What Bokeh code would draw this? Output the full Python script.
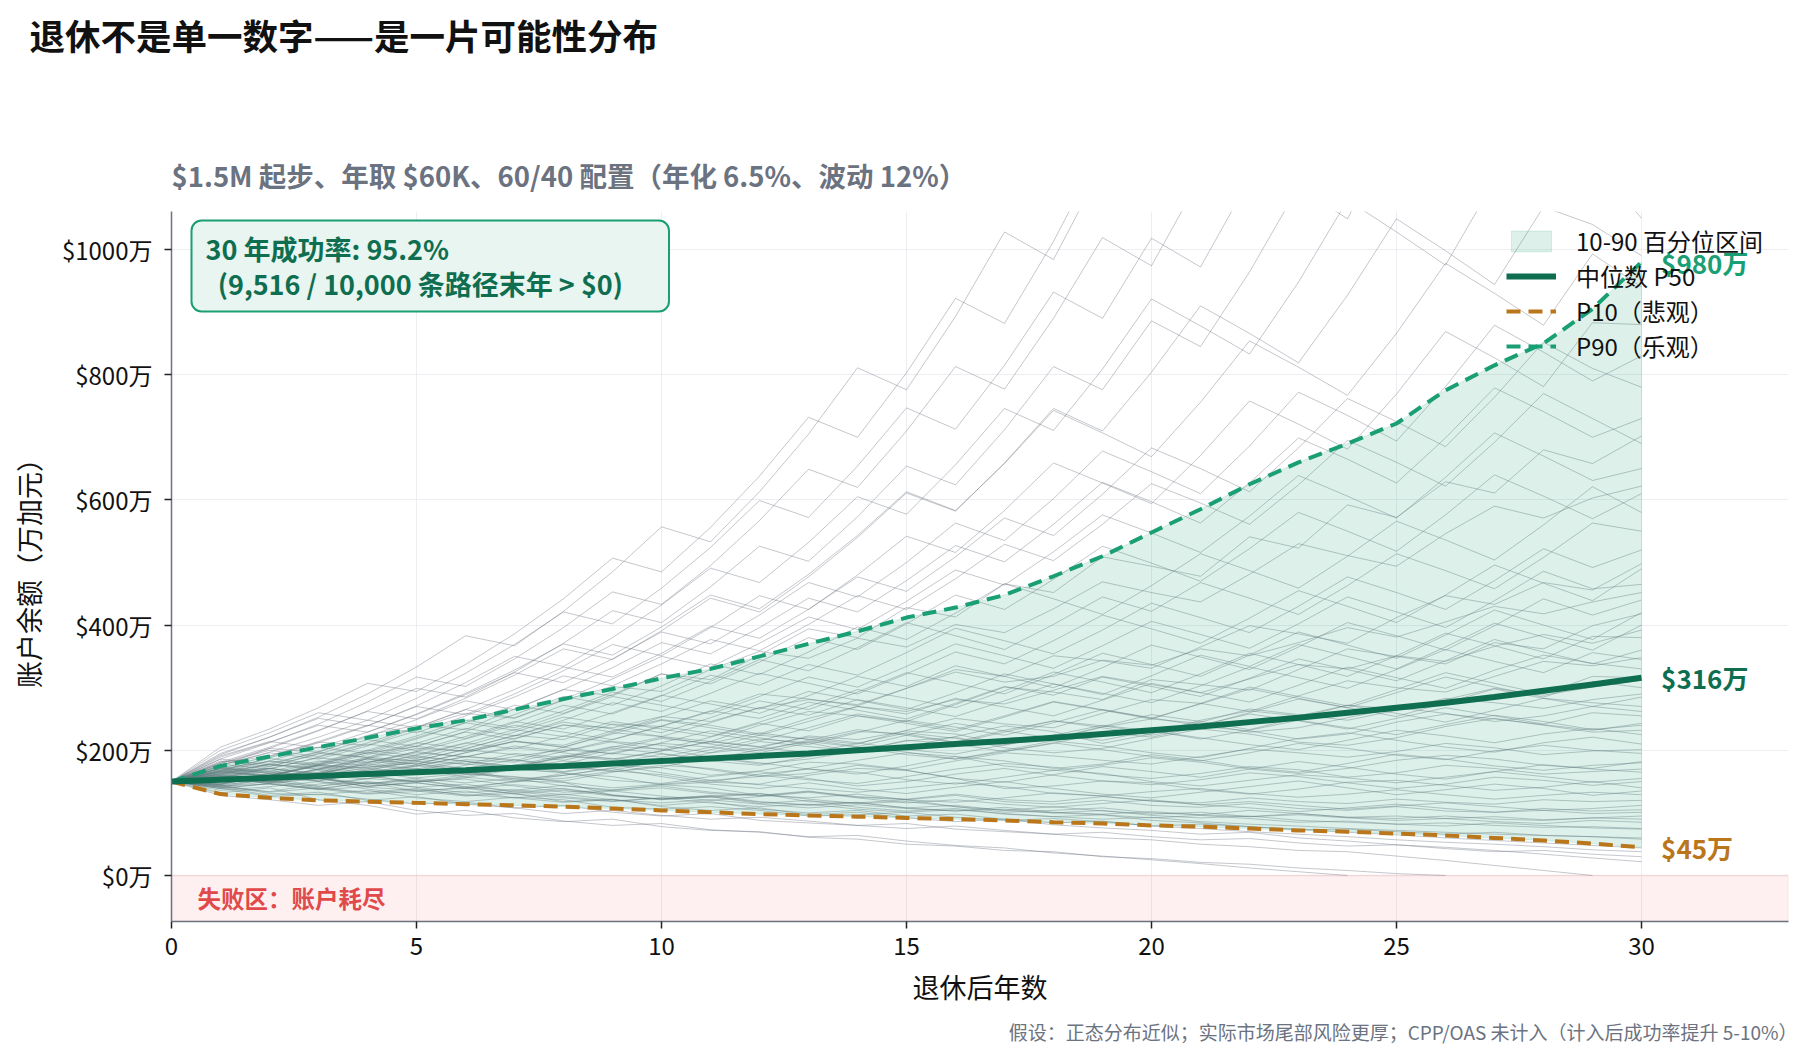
from bokeh.plotting import figure
from bokeh.models import Label, Legend, LegendItem, FixedTicker, Range1d, PrintfTickFormatter, Title
from bokeh.embed import file_html
from bokeh.resources import INLINE

# ---------------- data (balances in 万加元) ----------------
years = list(range(31))

p50 = [150, 153, 156, 159, 162, 165, 168, 172, 175, 179, 183, 187, 191, 195, 200, 205,
       210, 215, 220, 226, 232, 238, 245, 252, 260, 268, 276, 285, 295, 305, 316]
p10 = [150, 130, 124, 120, 118, 116, 114, 112, 110, 107, 104, 101, 98, 96, 94, 92,
       90, 88, 85, 83, 80, 78, 75, 72, 70, 67, 64, 60, 56, 51, 45]
p90 = [150, 175, 190, 205, 220, 235, 248, 265, 282, 298, 315, 330, 350, 370, 390, 412,
       428, 448, 478, 510, 548, 585, 625, 660, 690, 722, 775, 815, 850, 905, 980]

# a sample of simulated yearly balance paths (depleted paths stop at 0)
paths = [
    [150, 128, 121, 112, 118, 104, 96, 99, 87, 80, 83, 73, 69, 62, 64, 55, 48, 44, 36, 31, 25, 19, 12, 6, 0],
    [150, 132, 140, 121, 112, 98, 104, 92, 86, 90, 78, 72, 70, 61, 58, 50, 47, 40, 38, 30, 27, 21, 18, 12, 8, 3, 0],
    [150, 141, 128, 133, 120, 126, 114, 108, 112, 101, 95, 99, 88, 84, 80, 83, 74, 70, 66, 60, 57, 50, 46, 40, 38, 31, 24, 16, 8, 0],
    [150, 158, 146, 139, 148, 135, 127, 131, 118, 122, 110, 104, 108, 97, 101, 92, 86, 90, 81, 76, 72, 66, 69, 60, 55, 49, 45, 40, 34, 28, 22],
    [150, 136, 142, 150, 138, 129, 135, 124, 117, 121, 112, 118, 106, 100, 104, 95, 98, 90, 84, 87, 79, 75, 70, 66, 62, 57, 53, 50, 46, 41, 38],
    [150, 162, 155, 143, 150, 141, 146, 133, 139, 128, 121, 126, 115, 120, 109, 103, 107, 98, 94, 97, 88, 84, 78, 74, 69, 65, 60, 56, 52, 48, 44],
    [150, 145, 152, 140, 133, 139, 128, 134, 126, 119, 124, 116, 110, 114, 106, 101, 105, 99, 94, 90, 93, 86, 82, 79, 75, 72, 69, 66, 64, 62, 60],
    [150, 160, 149, 155, 142, 148, 139, 131, 136, 127, 122, 128, 118, 113, 117, 108, 112, 104, 100, 104, 96, 92, 95, 88, 85, 82, 84, 80, 77, 78, 75],
    [150, 144, 133, 140, 131, 137, 129, 124, 130, 121, 116, 121, 114, 108, 113, 107, 103, 109, 101, 98, 102, 97, 94, 99, 93, 91, 95, 90, 88, 92, 90],
    [150, 165, 171, 160, 166, 155, 148, 155, 143, 137, 143, 133, 128, 135, 125, 121, 128, 118, 114, 120, 112, 109, 115, 107, 104, 110, 103, 101, 107, 103, 105],
    [150, 139, 147, 155, 146, 152, 141, 136, 144, 135, 140, 131, 127, 134, 126, 122, 130, 121, 118, 126, 119, 116, 124, 118, 115, 122, 117, 114, 121, 118, 120],
    [150, 157, 168, 156, 147, 153, 142, 149, 160, 171, 158, 146, 139, 148, 138, 131, 141, 150, 139, 130, 124, 133, 142, 151, 140, 129, 137, 146, 139, 128, 135],
    [150, 161, 155, 168, 159, 149, 156, 170, 164, 152, 147, 158, 166, 155, 143, 150, 162, 171, 160, 151, 145, 153, 164, 158, 148, 139, 146, 157, 152, 144, 150],
    [150, 143, 156, 170, 162, 175, 168, 154, 160, 172, 181, 169, 158, 163, 176, 168, 155, 149, 161, 174, 166, 157, 170, 182, 173, 162, 154, 166, 177, 170, 165],
    [150, 168, 160, 151, 164, 177, 171, 185, 176, 166, 173, 189, 180, 170, 162, 175, 190, 183, 171, 178, 193, 184, 172, 165, 179, 194, 186, 175, 168, 176, 180],
    [150, 157, 171, 163, 178, 191, 182, 174, 188, 203, 195, 183, 176, 190, 205, 197, 186, 198, 212, 201, 190, 183, 196, 211, 203, 192, 185, 199, 208, 200, 195],
    [150, 139, 147, 160, 154, 168, 182, 175, 166, 179, 194, 186, 201, 214, 205, 193, 186, 200, 215, 207, 196, 188, 203, 219, 228, 216, 205, 197, 212, 221, 210],
    [150, 166, 177, 169, 183, 175, 190, 204, 196, 186, 199, 214, 206, 221, 212, 201, 194, 209, 225, 216, 231, 220, 209, 201, 216, 232, 223, 212, 226, 235, 225],
    [150, 158, 149, 163, 178, 171, 162, 176, 192, 184, 199, 214, 205, 196, 211, 228, 219, 208, 224, 240, 231, 218, 232, 248, 236, 225, 241, 256, 246, 233, 240],
    [150, 171, 163, 154, 170, 186, 178, 195, 188, 205, 221, 210, 199, 216, 233, 224, 212, 229, 247, 236, 224, 240, 258, 247, 234, 251, 268, 255, 242, 260, 255],
    [150, 146, 160, 175, 168, 184, 201, 193, 184, 201, 219, 211, 228, 217, 206, 224, 243, 231, 219, 238, 257, 246, 233, 252, 272, 259, 245, 264, 283, 276, 270],
    [150, 163, 178, 170, 186, 178, 196, 214, 205, 194, 212, 231, 220, 209, 228, 248, 237, 224, 244, 265, 252, 239, 260, 282, 268, 254, 276, 298, 283, 270, 285],
    [150, 159, 150, 165, 181, 198, 189, 207, 198, 217, 238, 227, 215, 236, 258, 246, 233, 255, 278, 265, 251, 274, 298, 283, 268, 292, 317, 301, 285, 310, 300],
    [150, 174, 166, 183, 175, 193, 212, 202, 223, 213, 201, 221, 243, 231, 255, 243, 230, 253, 277, 264, 250, 275, 301, 286, 271, 297, 324, 307, 290, 318, 316],
    [150, 141, 155, 170, 186, 178, 196, 215, 205, 226, 248, 236, 224, 246, 270, 258, 283, 269, 255, 280, 307, 292, 277, 304, 333, 316, 299, 328, 352, 339, 330],
    [150, 167, 183, 175, 193, 212, 203, 223, 245, 234, 222, 244, 268, 256, 281, 268, 254, 279, 306, 291, 276, 303, 333, 316, 299, 329, 361, 342, 324, 356, 345],
    [150, 155, 171, 188, 180, 198, 218, 240, 229, 217, 239, 263, 251, 277, 264, 250, 275, 302, 288, 317, 302, 286, 315, 346, 329, 311, 343, 377, 357, 338, 360],
    [150, 172, 163, 181, 200, 191, 211, 233, 222, 246, 234, 222, 245, 270, 297, 283, 268, 295, 325, 309, 292, 322, 355, 337, 318, 351, 387, 367, 346, 382, 380],
    [150, 162, 179, 197, 188, 207, 229, 218, 241, 229, 253, 279, 266, 294, 280, 265, 292, 322, 306, 289, 319, 352, 334, 369, 350, 330, 365, 403, 381, 360, 400],
    [150, 145, 160, 177, 196, 187, 207, 229, 253, 241, 228, 252, 279, 265, 293, 324, 307, 290, 321, 355, 337, 318, 352, 389, 368, 347, 384, 424, 400, 377, 420],
    [150, 178, 170, 189, 210, 200, 222, 246, 234, 260, 288, 274, 259, 287, 318, 302, 335, 318, 300, 332, 368, 349, 329, 365, 404, 383, 360, 399, 442, 416, 440],
    [150, 168, 187, 178, 198, 220, 244, 232, 258, 286, 272, 258, 286, 317, 301, 334, 370, 351, 331, 367, 406, 385, 363, 402, 445, 421, 396, 439, 486, 458, 465],
    [150, 160, 152, 170, 189, 211, 235, 223, 248, 276, 262, 291, 323, 307, 290, 322, 357, 338, 375, 416, 394, 371, 411, 455, 430, 404, 448, 496, 467, 439, 490],
    [150, 176, 196, 186, 207, 231, 219, 244, 272, 258, 287, 320, 304, 337, 320, 356, 395, 375, 354, 392, 435, 412, 388, 430, 477, 452, 425, 471, 522, 492, 520],
    [150, 169, 160, 179, 200, 223, 248, 236, 263, 293, 278, 310, 345, 327, 364, 404, 383, 361, 401, 445, 422, 468, 443, 417, 463, 514, 487, 458, 508, 563, 550],
    [150, 183, 174, 194, 217, 206, 230, 257, 286, 272, 303, 338, 321, 357, 397, 377, 419, 466, 442, 417, 463, 514, 487, 459, 510, 566, 536, 504, 560, 621, 580],
    [150, 164, 183, 205, 195, 218, 244, 272, 259, 289, 322, 306, 341, 380, 361, 402, 448, 425, 473, 526, 499, 470, 522, 580, 550, 518, 576, 640, 606, 570, 610],
    [150, 179, 200, 190, 212, 237, 265, 252, 281, 314, 350, 333, 371, 413, 393, 438, 488, 464, 517, 576, 547, 516, 574, 639, 606, 571, 636, 707, 670, 631, 650],
    [150, 171, 191, 214, 240, 228, 255, 285, 319, 303, 338, 377, 359, 401, 447, 425, 474, 529, 503, 561, 626, 595, 561, 624, 695, 660, 622, 692, 770, 730, 690],
    [150, 186, 177, 198, 222, 249, 279, 265, 297, 332, 372, 354, 396, 443, 421, 471, 527, 501, 561, 628, 597, 563, 627, 699, 665, 627, 699, 779, 741, 700, 730],
    [150, 176, 197, 221, 248, 236, 265, 297, 333, 317, 355, 398, 379, 425, 477, 454, 509, 571, 543, 609, 683, 650, 613, 683, 762, 725, 685, 764, 852, 810, 780],
    [150, 191, 214, 204, 229, 257, 289, 324, 308, 346, 389, 370, 416, 468, 445, 500, 563, 535, 602, 678, 645, 610, 686, 772, 735, 694, 781, 879, 836, 790, 830],
    [150, 167, 188, 212, 239, 270, 257, 290, 327, 369, 351, 396, 447, 425, 480, 542, 516, 583, 659, 627, 594, 671, 758, 721, 681, 769, 869, 827, 781, 883, 880],
    [150, 189, 213, 240, 229, 258, 291, 328, 370, 352, 397, 448, 426, 481, 543, 613, 583, 658, 743, 707, 669, 756, 854, 812, 767, 866, 978, 930, 879, 993, 940],
    [150, 181, 205, 232, 262, 250, 283, 320, 362, 345, 391, 443, 421, 477, 540, 611, 582, 659, 746, 710, 804, 910, 866, 819, 927, 1049, 998, 944, 1068, 1040, 990],
    [150, 195, 221, 251, 239, 271, 308, 350, 334, 380, 432, 491, 468, 532, 605, 577, 656, 746, 711, 809, 921, 878, 833, 948, 1079, 1028, 975, 1110, 1200, 1140, 1050],
    [150, 179, 203, 231, 263, 299, 285, 325, 371, 423, 404, 461, 526, 502, 573, 654, 624, 712, 813, 776, 886, 845, 964, 1100, 1049, 1197, 1142, 1080, 1180, 1260, 1150],
    [150, 200, 228, 260, 248, 283, 323, 369, 421, 402, 459, 524, 599, 572, 654, 747, 713, 815, 932, 890, 1018, 972, 1112, 1272, 1214, 1150, 1300, 1240, 1370, 1310, 1250],
    [150, 186, 212, 242, 277, 317, 302, 346, 396, 453, 433, 495, 567, 649, 620, 710, 813, 777, 890, 1019, 974, 1115, 1277, 1220, 1160, 1330, 1270, 1450, 1380, 1520, 1400],
    [150, 205, 234, 268, 307, 294, 337, 386, 442, 507, 485, 556, 638, 732, 700, 803, 922, 882, 1013, 1163, 1113, 1280, 1470, 1405, 1615, 1545, 1470, 1690, 1610, 1780, 1600],
    [150, 193, 221, 253, 290, 333, 383, 367, 422, 485, 557, 533, 613, 705, 811, 776, 893, 1028, 984, 1133, 1305, 1250, 1440, 1660, 1590, 1830, 1750, 1670, 1920, 1840, 1900],
    [150, 147, 160, 158, 141, 136, 139, 151, 149, 128, 122, 125, 131, 118, 116, 121, 110, 101, 104, 108, 100, 97, 104, 99, 93, 95, 91, 94, 89, 92, 95],
    [150, 170, 164, 158, 173, 180, 166, 152, 155, 167, 161, 149, 146, 160, 171, 168, 155, 139, 143, 151, 148, 137, 130, 138, 149, 152, 144, 136, 141, 150, 140],
    [150, 152, 149, 164, 187, 183, 170, 174, 190, 206, 202, 189, 178, 186, 199, 215, 221, 204, 196, 203, 219, 234, 226, 213, 208, 220, 238, 251, 240, 229, 232],
    [150, 144, 131, 129, 136, 124, 118, 125, 121, 109, 106, 110, 104, 95, 97, 101, 93, 88, 91, 86, 79, 82, 78, 73, 74, 70, 66, 69, 64, 62, 58],
    [150, 163, 160, 151, 166, 175, 190, 185, 172, 168, 183, 201, 218, 212, 197, 205, 222, 239, 230, 211, 226, 248, 263, 255, 272, 266, 281, 299, 288, 301, 312],
    [150, 142, 150, 163, 160, 149, 158, 172, 183, 177, 164, 152, 158, 171, 184, 196, 190, 175, 168, 176, 188, 181, 170, 163, 171, 184, 192, 186, 176, 171, 182],
    [150, 171, 182, 177, 196, 206, 198, 219, 240, 236, 254, 246, 268, 281, 273, 299, 325, 309, 318, 344, 336, 362, 351, 372, 396, 381, 405, 430, 418, 437, 452],
    [150, 156, 147, 137, 142, 150, 154, 143, 133, 136, 145, 140, 128, 124, 130, 121, 117, 124, 132, 127, 119, 113, 118, 112, 106, 111, 116, 110, 104, 107, 112],
    [150, 160, 177, 173, 164, 170, 185, 181, 198, 214, 208, 196, 204, 223, 217, 231, 226, 210, 218, 237, 250, 243, 229, 236, 252, 268, 259, 246, 255, 270, 262],
    [150, 166, 158, 176, 187, 203, 199, 214, 208, 231, 249, 240, 226, 251, 270, 262, 281, 274, 296, 318, 305, 292, 314, 337, 330, 351, 342, 366, 385, 371, 392],
    [150, 158, 149, 138, 130, 134, 141, 130, 124, 118, 124, 126, 117, 112, 116, 108, 103, 106, 100, 97, 92, 96, 91, 85, 87, 82, 79, 84, 80, 76, 74],
    [150, 141, 134, 146, 155, 150, 161, 170, 165, 176, 172, 160, 167, 181, 178, 169, 183, 196, 191, 184, 178, 190, 202, 196, 189, 198, 211, 204, 193, 199, 201],
    [150, 181, 190, 213, 208, 236, 259, 251, 280, 302, 294, 329, 358, 347, 379, 365, 401, 388, 426, 469, 452, 437, 481, 530, 511, 494, 546, 590, 571, 603, 622],
    [150, 149, 162, 154, 146, 156, 163, 158, 149, 140, 146, 152, 145, 139, 133, 140, 148, 142, 131, 127, 134, 139, 131, 125, 130, 137, 129, 122, 128, 133, 129],
    [150, 146, 159, 177, 171, 163, 176, 190, 201, 195, 189, 205, 224, 218, 210, 232, 251, 242, 236, 259, 281, 275, 262, 287, 311, 300, 293, 318, 342, 335, 348],
    [150, 139, 126, 130, 122, 114, 117, 108, 99, 104, 96, 90, 93, 87, 80, 75, 79, 72, 66, 69, 62, 57, 59, 52, 47, 49, 43, 38, 40, 34, 30],
    [150, 172, 166, 159, 168, 182, 178, 172, 190, 187, 180, 196, 214, 206, 199, 216, 210, 198, 211, 229, 221, 238, 231, 218, 226, 245, 258, 250, 241, 232, 243],
    [150, 154, 151, 142, 155, 168, 162, 157, 151, 165, 176, 171, 160, 153, 147, 158, 170, 179, 173, 161, 155, 163, 174, 169, 157, 164, 176, 171, 162, 166, 170],
    [150, 158, 174, 195, 189, 183, 202, 224, 217, 242, 238, 262, 290, 282, 271, 299, 329, 318, 351, 343, 331, 365, 399, 386, 371, 412, 447, 433, 468, 456, 498],
    [150, 165, 159, 176, 172, 189, 183, 170, 178, 196, 211, 205, 196, 212, 230, 226, 213, 232, 247, 239, 228, 245, 266, 257, 248, 264, 283, 276, 267, 281, 290],
    [150, 143, 146, 138, 149, 141, 132, 137, 129, 135, 127, 120, 126, 133, 124, 116, 121, 114, 109, 115, 121, 113, 108, 102, 108, 114, 107, 101, 104, 99, 101],
    [150, 175, 203, 197, 224, 240, 233, 266, 297, 287, 322, 313, 352, 394, 380, 428, 413, 466, 452, 509, 494, 478, 541, 523, 592, 572, 629, 611, 680, 658, 702],
    [150, 162, 171, 163, 175, 170, 157, 150, 163, 158, 145, 149, 162, 170, 165, 153, 146, 157, 168, 163, 150, 143, 152, 161, 156, 148, 157, 166, 158, 149, 155],
    [150, 146, 164, 161, 180, 196, 190, 183, 205, 228, 222, 214, 240, 262, 255, 246, 273, 301, 293, 281, 313, 305, 296, 329, 362, 350, 338, 372, 362, 399, 418],
    [150, 166, 159, 150, 143, 148, 139, 145, 138, 129, 122, 127, 131, 122, 115, 118, 110, 104, 110, 103, 98, 101, 94, 97, 92, 88, 91, 86, 83, 88, 85],
]

success_paths = 9516
total_paths = 10000
x_ticks = [0, 5, 10, 15, 20, 25, 30]
y_ticks = [0, 200, 400, 600, 800, 1000]

# ---------------- style ----------------
FONT = "Noto Sans CJK SC"
DARK_GREEN = "#0f6e50"
GREEN = "#1a9e74"
ORANGE = "#b9761a"
RED = "#e04a4a"
GRAY_TXT = "#6b7280"
SPINE = "#6b7280"

W, H = 1817, 1062
FL, FR, FT, FB = 171, 1788, 211, 921          # plot frame in pixels
X0, X1 = 0, 33
Y0, Y1 = -73.5, 1060.7


def at(px, py):
    """Canvas pixel -> data coordinate (for text placed inside the frame)."""
    x = X0 + (px - FL) * (X1 - X0) / (FR - FL)
    y = Y1 - (py - FT) * (Y1 - Y0) / (FB - FT)
    return x, y


p = figure(width=W, height=H, x_range=Range1d(X0, X1), y_range=Range1d(Y0, Y1),
           output_backend="svg", toolbar_location=None, title=None,
           min_border_left=FL, min_border_right=W - FR,
           min_border_top=FT, min_border_bottom=H - FB)
p.outline_line_color = None
p.background_fill_color = "white"
p.border_fill_color = "white"

# failure zone below zero
p.quad(left=X0, right=X1, bottom=Y0, top=0, fill_color="#ef4444", fill_alpha=0.08,
       line_color="#ef4444", line_alpha=0.08, line_width=2)

# simulated paths
p.multi_line(xs=[years[:len(v)] for v in paths], ys=paths,
             line_color="#6b7280", line_alpha=0.4, line_width=1)

# 10-90 percentile band
band = p.patch(x=years + years[::-1], y=p90 + p10[::-1],
               fill_color=GREEN, fill_alpha=0.15, line_color=GREEN, line_alpha=0.15, line_width=1)

r10 = p.line(years, p10, line_color=ORANGE, line_width=4, line_dash="14 8")
r90 = p.line(years, p90, line_color=GREEN, line_width=4, line_dash="14 8")
r50 = p.line(years, p50, line_color=DARK_GREEN, line_width=6)

# axes
for ax in (p.xaxis[0], p.yaxis[0]):
    ax.axis_line_color = SPINE
    ax.axis_line_width = 1.5
    ax.major_tick_line_color = "#222222"
    ax.major_tick_line_width = 1.5
    ax.major_tick_out = 7
    ax.major_tick_in = 0
    ax.minor_tick_line_color = None
    ax.major_label_text_font = FONT
    ax.major_label_text_font_size = "24px"
    ax.major_label_text_color = "#111111"
    ax.axis_label_text_font = FONT
    ax.axis_label_text_font_size = "27px"
    ax.axis_label_text_font_style = "normal"
    ax.axis_label_text_color = "#111111"

p.xaxis.ticker = FixedTicker(ticks=x_ticks)
p.yaxis.ticker = FixedTicker(ticks=y_ticks)
p.yaxis.formatter = PrintfTickFormatter(format="$%d万")
p.xaxis.axis_label = "退休后年数"
p.yaxis.axis_label = "账户余额（万加元）"
p.xaxis.major_label_standoff = 8
p.yaxis.major_label_standoff = 12
p.xaxis.axis_label_standoff = 9
p.yaxis.axis_label_standoff = 11

p.xgrid.ticker = FixedTicker(ticks=x_ticks)
p.ygrid.ticker = FixedTicker(ticks=y_ticks)
p.grid.grid_line_color = "#e5e7eb"
p.grid.grid_line_alpha = 0.7
p.grid.grid_line_width = 1

# legend
legend = Legend(items=[
    LegendItem(label="10-90 百分位区间", renderers=[band]),
    LegendItem(label="中位数 P50", renderers=[r50]),
    LegendItem(label="P10（悲观）", renderers=[r10]),
    LegendItem(label="P90（乐观）", renderers=[r90]),
], location=(1329, 552))
legend.label_text_font = FONT
legend.label_text_font_size = "24px"
legend.label_text_color = "#111111"
legend.glyph_width = 50
legend.glyph_height = 26
legend.label_height = 26
legend.label_standoff = 20
legend.spacing = 0
legend.padding = 6
legend.margin = 0
legend.background_fill_alpha = 0
legend.border_line_alpha = 0
p.add_layout(legend, "center")

# end-of-horizon value labels
for vals, col in ((p90, GREEN), (p50, DARK_GREEN), (p10, ORANGE)):
    p.add_layout(Label(x=30.4, y=vals[-1], text=f"${vals[-1]}万", text_font=FONT,
                       text_font_size="26px", text_font_style="bold", text_color=col,
                       text_baseline="middle", text_align="left"))

# failure zone caption
fx, fy = at(197, 897)
p.add_layout(Label(x=fx, y=fy, text="失败区：账户耗尽", text_font=FONT, text_font_size="23.5px",
                   text_font_style="bold", text_color=RED, text_baseline="middle"))

# success-rate box
rate = success_paths / total_paths * 100
bx, by = at(191, 220)
p.add_layout(Label(x=bx, y=by, anchor="top_left",
                   text=f"30 年成功率: {rate:.1f}%\n\u00a0\u00a0({success_paths:,} / {total_paths:,} 条路径末年 > $0)",
                   text_font=FONT, text_font_size="27px", text_font_style="bold",
                   text_color=DARK_GREEN, text_line_height=0.92,
                   background_fill_color="#e8f5f0", background_fill_alpha=1,
                   border_line_color=GREEN, border_line_width=2, border_radius=10,
                   padding=dict(left=14, right=46, top=8, bottom=8)))

# header panels, stacked upward from the frame: subtitle, gap, title
p.add_layout(Title(text="$1.5M 起步、年取 $60K、60/40 配置（年化 6.5%、波动 12%）",
                   text_font=FONT, text_font_size="27.5px", text_font_style="bold",
                   text_color=GRAY_TXT, align="left", offset=0, standoff=34), "above")
p.add_layout(Title(text=" ", text_font=FONT, text_font_size="10px", standoff=56), "above")
p.add_layout(Title(text="退休不是单一数字——是一片可能性分布",
                   text_font=FONT, text_font_size="35.5px", text_font_style="bold",
                   text_color="#111111", align="left", offset=-142, standoff=6), "above")
# footnote below the x axis
p.add_layout(Title(text="假设：正态分布近似；实际市场尾部风险更厚；CPP/OAS 未计入（计入后成功率提升 5-10%）",
                   text_font=FONT, text_font_size="19px", text_font_style="normal",
                   text_color=GRAY_TXT, align="right", offset=-9, standoff=14), "below")

open("out.html", "w").write(file_html(p, INLINE))
